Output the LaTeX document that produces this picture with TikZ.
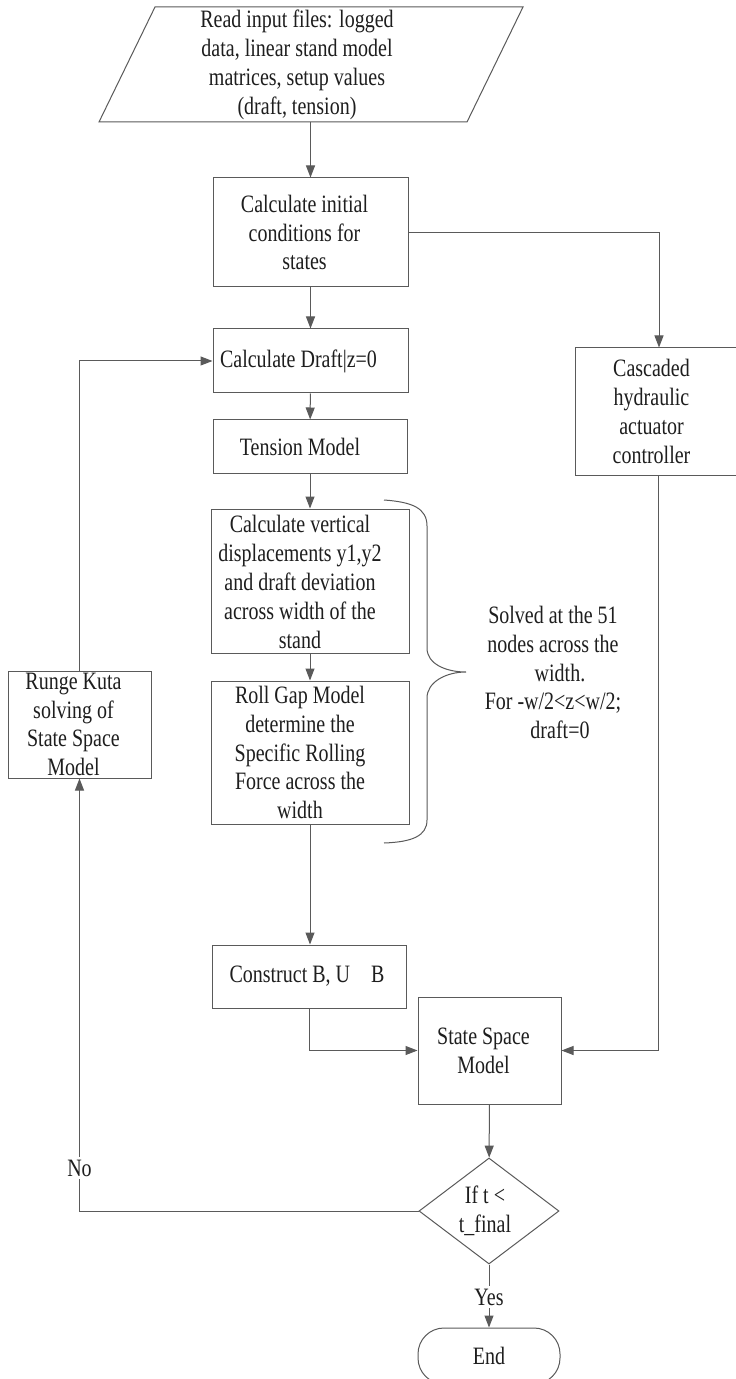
\documentclass[tikz,border=0pt]{standalone}
\usepackage{fontspec}
\setmainfont{Liberation Serif}[FakeStretch=0.8]
\usetikzlibrary{arrows.meta,shapes.geometric}
\definecolor{ln}{HTML}{5A5A5A}
\definecolor{tx}{HTML}{1E1E1E}
\begin{document}
\begin{tikzpicture}[x=0.5pt,y=-0.5pt,
  font=\fontsize{12.5pt}{14.4pt}\selectfont,
  every node/.append style={text=tx},
  box/.style={draw=ln, line width=0.5pt, inner sep=0pt},
  txt/.style={align=center, inner sep=0pt},
  conn/.style={draw=ln, line width=0.5pt},
  arr/.style={conn, -{Triangle[length=6pt,width=4.5pt]}},
  lbl/.style={fill=white, inner sep=1.5pt}]
\useasboundingbox (0,0) rectangle (735,1379);
\fill[white] (0,0) rectangle (735,1379);

% input parallelogram
\draw[conn] (155,7) -- (523,7) -- (467,122) -- (99,122) -- cycle;
\node[txt] (in) at (297,65) {Read input files: logged\\data, linear stand model\\matrices, setup values\\(draft, tension)};
\coordinate (inb) at (310.5,122);

% boxes
\node[box, minimum width=97.5pt, minimum height=54.5pt] (init) at (310.5,232.5) {};
\node[txt] (init-t) at ([xshift=-3pt]init.center) {Calculate initial\\conditions for\\states};

\node[box, minimum width=97.5pt, minimum height=32pt] (draft) at (310.5,361) {};
\node[txt] (draft-t) at ([xshift=-6pt]draft.center) {Calculate Draft|z=0};

\node[box, minimum width=97pt, minimum height=26.5pt] (tens) at (310,446.5) {};
\node[txt] (tens-t) at ([xshift=-5pt]tens.center) {Tension Model};

\node[box, minimum width=99pt, minimum height=72pt] (vert) at (310,581) {};
\node[txt] (vert-t) at ([xshift=-5pt,yshift=-0.5pt]vert.center) {Calculate vertical\\displacements y1,y2\\and draft deviation\\across width of the\\stand};

\node[box, minimum width=99pt, minimum height=71.5pt] (roll) at (310,752.5) {};
\node[txt] (roll-t) at ([xshift=-5pt]roll.center) {Roll Gap Model\\determine the\\Specific Rolling\\Force across the\\width};

\node[box, minimum width=97pt, minimum height=31.5pt] (constr) at (309,976.5) {};
\node[txt] (constr-t) at ([xshift=-1pt]constr.center) {Construct B, U\hspace{8pt} B};

\node[box, minimum width=71.5pt, minimum height=53.5pt] (ss) at (489.5,1050.5) {};
\node[txt] (ss-t) at ([xshift=-3pt]ss.center) {State Space\\Model};

\node[box, minimum width=80.5pt, minimum height=63.5pt] (casc) at (655.5,411.5) {};
\node[txt] (casc-t) at ([xshift=-2pt]casc.center) {Cascaded\\hydraulic\\actuator\\controller};

\node[box, minimum width=71.5pt, minimum height=53.5pt] (rk) at (79.5,724.5) {};
\node[txt] (rk-t) at ([xshift=-3pt]rk.center) {Runge Kuta\\solving of\\State Space\\Model};

\node[draw=ln, line width=0.5pt, diamond, shape aspect=1.32, minimum width=70pt, minimum height=53pt, inner sep=0pt] (dec) at (489,1211) {};
\node[txt] (dec-t) at ([xshift=-2pt]dec.center) {If t <\\t\_final};

\begin{scope}
\clip (0,0) rectangle (735,1379);
\node[draw=ln, line width=0.5pt, rounded corners=13pt, minimum width=71pt, minimum height=28pt, inner sep=0pt] (fin) at (489,1356) {End};
\end{scope}

% brace and note
\draw[conn] (384,500) .. controls (412,502) and (427,508) .. (427,526) -- (427,648)
  .. controls (427,664) and (446,672) .. (466,672)
  .. controls (446,672) and (427,682) .. (427,698) -- (427,820)
  .. controls (427,836) and (412,842) .. (384,843);
\node[txt] (note) at (553,672.5) {Solved at the 51\\nodes across the\\\hspace{7pt}width.\\For -w/2<z<w/2;\\\hspace{7pt}draft=0};

% connectors
\draw[arr] (inb) -- (init.north);
\draw[arr] (init) -- (draft);
\draw[arr] (draft) -- (tens);
\draw[arr] (tens) -- (vert);
\draw[arr] (vert) -- (roll);
\draw[arr] (roll.south) -- (roll.south |- constr.north);
\draw[arr] (init.east) -| ([xshift=1.75pt]casc.north);
\draw[arr] (constr.south) |- (ss.west);
\draw[arr] ([xshift=1.25pt]casc.south) |- (ss.east);
\draw[arr] (ss) -- (dec);
\draw[arr] (dec.west) -| (rk.south);
\draw[arr] (rk.north) |- (draft.west);
\draw[arr] (dec.south) -- (fin.north);
\node[lbl] (no) at (79.5,1168) {No};
\node[lbl] (yes) at (489,1297) {Yes};
\end{tikzpicture}
\end{document}
